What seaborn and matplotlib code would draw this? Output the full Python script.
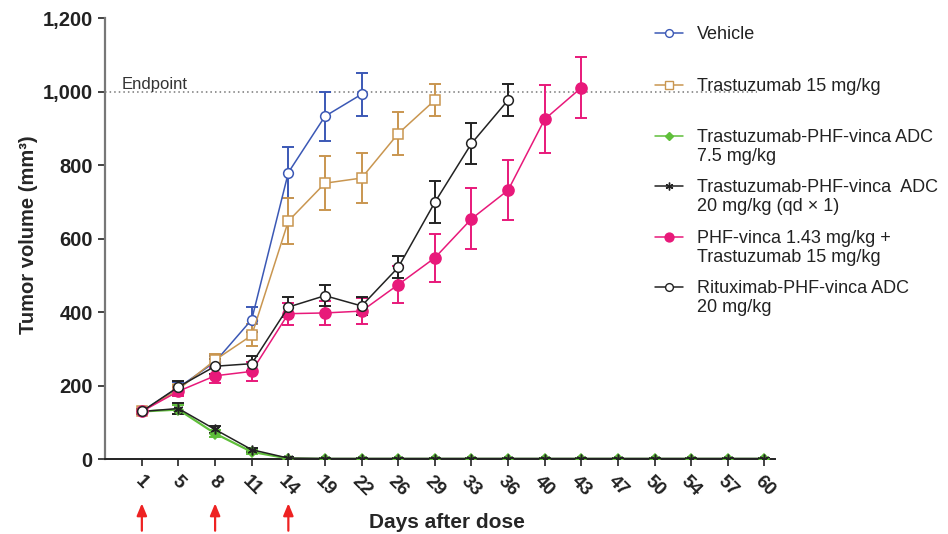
"""
Tumor growth curves: xenograft efficacy of Trastuzumab-PHF-vinca ADC.
"""

import pandas as pd
import matplotlib.pyplot as plt
import seaborn as sns
from matplotlib.lines import Line2D
from matplotlib.ticker import FuncFormatter


# ---------------------------------------------------------------------------
# Data (mean +/- SEM)
# ---------------------------------------------------------------------------
days = [1, 5, 8, 11, 14, 19, 22, 26, 29, 33, 36, 40, 43, 47, 50, 54, 57, 60]
dose_days = [1, 8, 14]

vehicle_mean = [130, 195, 265, 380, 780, 933, 993]
vehicle_err = [8, 15, 15, 35, 70, 67, 58]

trast_mean = [130, 190, 270, 337, 648, 751, 765, 886, 977]
trast_err = [8, 12, 15, 30, 63, 73, 68, 59, 43]

adc75_mean = [130, 135, 70, 20, 2, 1, 1, 1, 1, 1, 1, 1, 1, 1, 1, 1, 1, 1]
adc75_err = [8, 12, 10, 5, 1, 0, 0, 0, 0, 0, 0, 0, 0, 0, 0, 0, 0, 0]

adc20_mean = [130, 138, 81, 26, 3, 2, 2, 2, 2, 2, 2, 2, 2, 2, 2, 2, 2, 2]
adc20_err = [8, 15, 10, 5, 2, 2, 2, 2, 2, 2, 2, 2, 2, 2, 2, 2, 2, 2]

combo_mean = [130, 185, 227, 239, 396, 398, 403, 475, 548, 654, 732, 925, 1011]
combo_err = [8, 12, 20, 25, 30, 33, 35, 50, 66, 83, 82, 92, 82]

ritux_mean = [130, 197, 253, 260, 414, 445, 417, 522, 699, 859, 977]
ritux_err = [8, 15, 20, 20, 28, 28, 25, 30, 57, 57, 43]

groups = [
    ("Vehicle", vehicle_mean, vehicle_err,
     dict(color='#3b58b5', marker='o', mfc='white', ms=7, lw=1.1)),
    ("Trastuzumab 15 mg/kg", trast_mean, trast_err,
     dict(color='#c99650', marker='s', mfc='white', ms=7, lw=1.1)),
    ("Trastuzumab-PHF-vinca ADC\n7.5 mg/kg", adc75_mean, adc75_err,
     dict(color='#5fbf3a', marker='D', mfc='#5fbf3a', ms=5, lw=1.6)),
    ("Trastuzumab-PHF-vinca  ADC\n20 mg/kg (qd \u00d7 1)", adc20_mean, adc20_err,
     dict(color='#222222', marker=(6, 2, 0), mfc='#222222', ms=7, lw=1.1)),
    ("PHF-vinca 1.43 mg/kg +\nTrastuzumab 15 mg/kg", combo_mean, combo_err,
     dict(color='#e8197a', marker='o', mfc='#e8197a', ms=8, lw=1.1)),
    ("Rituximab-PHF-vinca ADC\n20 mg/kg", ritux_mean, ritux_err,
     dict(color='#222222', marker='o', mfc='white', ms=7, lw=1.1)),
]

# ---------------------------------------------------------------------------
# Figure
# ---------------------------------------------------------------------------
sns.set_style("ticks")
plt.rcParams['font.family'] = ['Liberation Sans', 'DejaVu Sans']

W, H = 948, 534
fig = plt.figure(figsize=(W / 100, H / 100), dpi=100)
ax = fig.add_axes([0.111, 0.140, 0.707, 0.826])

pos_of = {d: i for i, d in enumerate(days)}
for label, mean, err, st in groups:
    df = pd.DataFrame({
        "pos": [pos_of[d] for d in days[:len(mean)]],
        "mean": mean,
        "err": err,
    })
    ax.errorbar(df["pos"], df["mean"], yerr=df["err"], fmt='none',
                ecolor=st['color'], elinewidth=1.4, capsize=4.5, capthick=1.4,
                zorder=2)
    sns.lineplot(data=df, x="pos", y="mean", ax=ax, color=st['color'],
                 marker=st['marker'], markersize=st['ms'],
                 markerfacecolor=st['mfc'], markeredgecolor=st['color'],
                 markeredgewidth=1.1, linewidth=st['lw'], zorder=3,
                 legend=False)

# Endpoint line
ax.plot([-1, 16.8], [1000, 1000], linestyle=(0, (1, 2)), color='#777777',
        linewidth=1.1, zorder=1, clip_on=False)
ax.text(-0.55, 999, "Endpoint", fontsize=12, color='#333333',
        ha='left', va='bottom')

# Dosing arrows
for d in dose_days:
    ax.annotate("", xy=(pos_of[d], -0.10), xycoords=('data', 'axes fraction'),
                xytext=(pos_of[d], -0.162), textcoords=('data', 'axes fraction'),
                arrowprops=dict(arrowstyle='-|>,head_length=0.6,head_width=0.25',
                                color='#ee2222', lw=1.6,
                                mutation_scale=12, shrinkA=0, shrinkB=0))

# Axes formatting
ax.set_xlim(-1, 17.3)
ax.set_ylim(0, 1200)
ax.set_xticks(range(len(days)))
ax.set_xticklabels([str(d) for d in days], rotation=-45, ha='center',
                   va='top', fontsize=13.5, fontweight='bold')
ax.set_yticks([0, 200, 400, 600, 800, 1000, 1200])
ax.yaxis.set_major_formatter(FuncFormatter(lambda v, p: f"{int(v):,}"))
for t in ax.get_yticklabels():
    t.set_fontsize(14.5)
    t.set_fontweight('bold')
ax.tick_params(axis='both', direction='out', length=5, width=1.2,
               colors='#222222')
ax.tick_params(axis='x', pad=5)
ax.tick_params(axis='y', pad=4)

ax.set_ylabel("Tumor volume (mm\u00b3)", fontsize=14.5, fontweight='bold')
ax.yaxis.set_label_coords(-0.1, 0.51)
ax.set_xlabel("Days after dose", fontsize=15, fontweight='bold')
ax.xaxis.set_label_coords(0.51, -0.122)

sns.despine(ax=ax)
ax.spines['left'].set_color('#777777')
ax.spines['left'].set_linewidth(1.6)
ax.spines['bottom'].set_color('#222222')
ax.spines['bottom'].set_linewidth(1.4)

# Legend, drawn entry by entry so the handle sits on the first text line
entry_y = [33, 85, 136, 186, 237, 287]
for (label, _, _, st), yp in zip(groups, entry_y):
    yf = 1 - yp / H
    fig.add_artist(Line2D([655 / W, 683 / W], [yf, yf], color=st['color'],
                          linewidth=1.1, transform=fig.transFigure))
    fig.add_artist(Line2D([669 / W], [yf], color=st['color'],
                          marker=st['marker'], markersize=st['ms'] * 0.8,
                          markerfacecolor=st['mfc'],
                          markeredgecolor=st['color'], markeredgewidth=1.0,
                          linestyle='none', transform=fig.transFigure))
    fig.text(697 / W, yf + 7 / H, label, fontsize=13, color='#222222',
             ha='left', va='top', linespacing=1.15)

fig.savefig("out.png", dpi=100)
